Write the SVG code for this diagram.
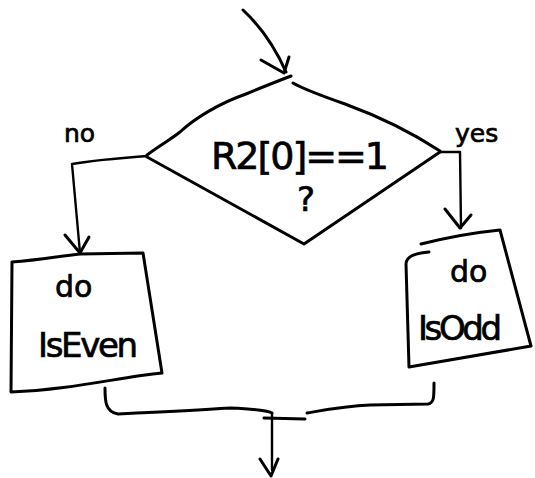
<svg xmlns="http://www.w3.org/2000/svg" width="535" height="478" viewBox="0 0 535 478">
  <style>
    .ink { fill: none; stroke: #000; stroke-width: 3; stroke-linecap: round; stroke-linejoin: round; }
    .thin { fill: none; stroke: #000; stroke-width: 2.4; stroke-linecap: round; stroke-linejoin: round; }
    .hand { font-family: "DejaVu Sans", "Liberation Sans", sans-serif; fill: #000; stroke: #000; stroke-width: 0.7; font-weight: normal; }
  </style>
  <rect width="535" height="478" fill="#fff"/>

  <!-- connectors -->
  <g id="connectors">
    <!-- entry arrow -->
    <path class="ink" d="M243,10 C258,24 274,45 286,72"/>
    <path class="ink" d="M261,60 L284,73 L289,57"/>
    <!-- no branch -->
    <path class="thin" d="M147,156 C120,158 95,160 72,164 L80,253"/>
    <path class="ink" d="M65,235 L80,253 L89,237"/>
    <!-- yes branch -->
    <path class="thin" d="M440,152 L460,152 L461,228"/>
    <path class="ink" d="M445,209 L460,228 L471,215"/>
    <!-- merge -->
    <path class="ink" d="M105,388 C105,400 105,412 118,414 C160,412 200,410 230,408 C255,409 268,411 272,413"/>
    <path class="ink" d="M264,418 L305,419"/>
    <path class="ink" d="M307,413 C330,409 345,406 370,405 L428,404 C434,403 434,398 434,383"/>
    <path class="thin" d="M272,413 L272,470"/>
    <path class="ink" d="M260,459 L271,476 L278,459"/>
  </g>

  <!-- decision -->
  <g id="decision">
    <path class="ink" d="M147,155 C160,145 170,140 180,132 C195,118 220,103 246,94 C265,86 278,81 291,76"/>
    <path class="ink" d="M293,83 C305,90 325,97 345,104 C375,115 405,128 440,151"/>
    <path class="ink" d="M440,152 L304,244 L147,157"/>
    <text class="hand" x="211" y="169" font-size="38" textLength="178" lengthAdjust="spacing">R2[0]==1</text>
    <text class="hand" x="297" y="211" font-size="34">?</text>
  </g>

  <!-- branch labels -->
  <g id="label-no">
    <text class="hand" x="64" y="142" font-size="25">no</text>
  </g>
  <g id="label-yes">
    <text class="hand" x="455" y="142" font-size="25">yes</text>
  </g>

  <!-- left action box -->
  <g id="box-even">
    <path class="ink" d="M12,262 C40,260 60,256 80,254 L143,253 L162,373 C120,377 70,390 11,392 L12,262"/>
    <text class="hand" x="55" y="297" font-size="30">do</text>
    <text class="hand" x="38" y="357" font-size="34" textLength="100" lengthAdjust="spacing">IsEven</text>
  </g>

  <!-- right action box -->
  <g id="box-odd">
    <path class="ink" d="M421,244 C445,238 470,233 500,230 L531,346 L409,367 L406,264 C406,256 415,253 429,252"/>
    <text class="hand" x="450" y="282" font-size="30">do</text>
    <text class="hand" x="418" y="340" font-size="34" textLength="84" lengthAdjust="spacing">IsOdd</text>
  </g>
</svg>
